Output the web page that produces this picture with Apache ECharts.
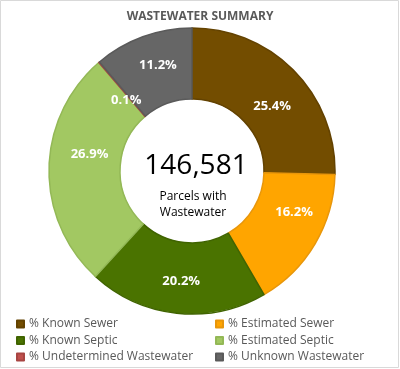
<!DOCTYPE html>
<html><head><meta charset="utf-8">
<script src="https://cdn.jsdelivr.net/npm/echarts@6/dist/echarts.min.js"></script>
<style>html,body{margin:0;padding:0;background:#fff}#c{width:400px;height:369px}</style>
</head><body><div id="c"></div>
<script>
const categories = ['% Known Sewer','% Estimated Sewer','% Known Septic','% Estimated Septic','% Undetermined Wastewater','% Unknown Wastewater'];
const values = [25.4, 16.2, 20.2, 26.9, 0.1, 11.2];
const colors = ['#734d00','#ffa500','#4a7300','#a2c862','#c0504d','#666666'];
const borders = ['#634200','#e8960a','#406400','#93b856','#a84542','#5a5a5a'];
const totalLabel = '146,581';
const subLabel = 'Parcels with\nWastewater';
const titleText = 'WASTEWATER SUMMARY';

const labelShift = [[1,12],[7,-15],[1,0],[8,-15],[6,13],[4,-2]];

const chart = echarts.init(document.getElementById('c'));
const font = '"Open Sans", sans-serif';
const legendBase = {orient: 'vertical', top: 318, height: 51, padding: 0, icon: 'rect', itemWidth: 7, itemHeight: 7, itemGap: 4.5,
  textStyle: {fontFamily: font, fontSize: 12, color: '#595959'}};
chart.setOption({
  animation: false,
  title: {text: titleText, left: 'center', top: 6,
    textStyle: {fontFamily: font, fontSize: 12, fontWeight: 'bold', color: '#595959'}},
  legend: [
    Object.assign({data: [categories[0], categories[2], categories[4]], left: 16}, legendBase),
    Object.assign({data: [categories[1], categories[3], categories[5]], left: 215}, legendBase)
  ],
  graphic: [
    {type: 'rect', shape: {x: 0.5, y: 0.5, width: 398, height: 367}, style: {fill: 'none', stroke: '#d9d9d9', lineWidth: 1}, silent: true},
    {type: 'text', x: 196, y: 166, style: {text: totalLabel, font: '28px "Open Sans", sans-serif', fill: '#000', textAlign: 'center', textVerticalAlign: 'middle'}},
    {type: 'text', x: 193, y: 205, style: {text: subLabel, font: '12px "Open Sans", sans-serif', fill: '#000', textAlign: 'center', textVerticalAlign: 'middle', lineHeight: 16}}
  ],
  series: [{
    type: 'pie',
    center: [192, 171],
    radius: [72, 143],
    startAngle: 90,
    clockwise: true,
    avoidLabelOverlap: false,
    label: {show: true, position: 'inside', formatter: p => p.value.toFixed(1) + '%',
      fontFamily: font, fontSize: 13, fontWeight: 'bold', color: '#fff'},
    labelLine: {show: false},
    labelLayout: p => ({dx: labelShift[p.dataIndex][0], dy: labelShift[p.dataIndex][1]}),
    data: categories.map((n, i) => ({name: n, value: values[i],
      itemStyle: {color: colors[i], borderColor: borders[i], borderWidth: 1.5}}))
  }]
});
</script></body></html>
